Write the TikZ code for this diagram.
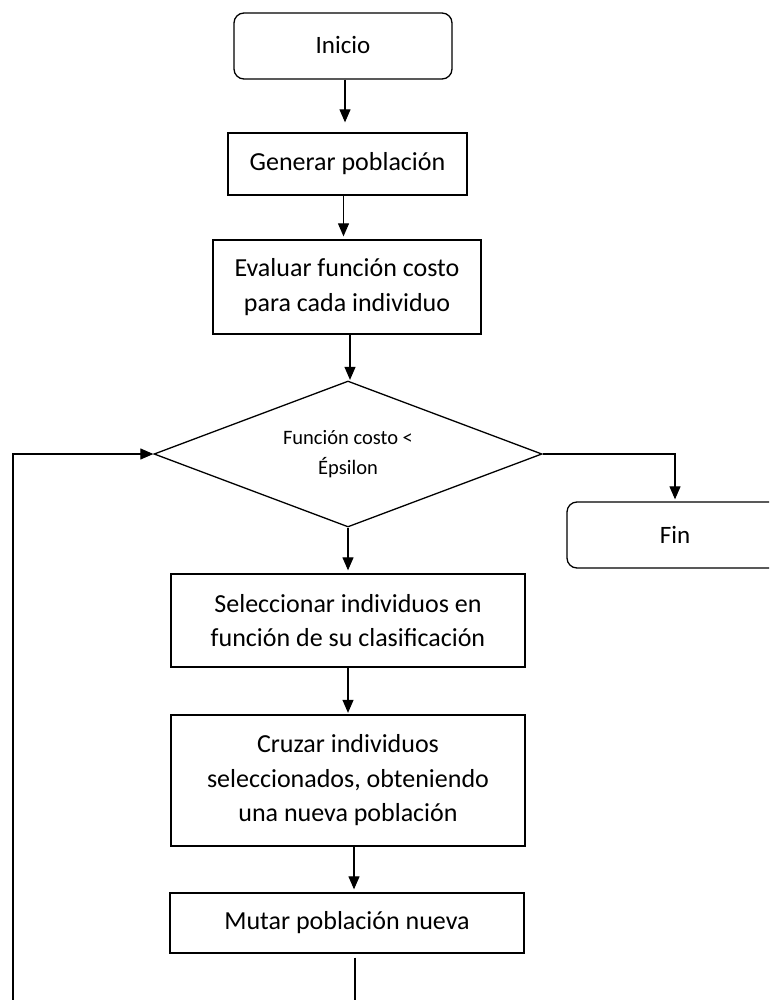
\documentclass[tikz,border=0pt]{standalone}
\usepackage{fontspec}
\setmainfont{Carlito}
\usetikzlibrary{shapes.geometric,arrows.meta,positioning,calc}
\begin{document}
\begin{tikzpicture}[x=1pt,y=-1pt,
  every node/.style={font=\fontsize{26}{34.5}\selectfont, align=center, inner sep=0pt},
  boxn/.style={draw, line width=1.3pt, rectangle},
  termn/.style={draw, line width=1.3pt, rectangle, rounded corners=10pt, font=\fontsize{25}{34.5}\selectfont},
  decn/.style={draw, line width=1.3pt, diamond, aspect=2.66, font=\fontsize{20.5}{30}\selectfont},
  arr/.style={line width=1.1pt, -{Triangle[length=13pt,width=11pt]}, shorten >=3pt}
]
\useasboundingbox (0,0) rectangle (769,1000);
\clip (0,0) rectangle (769,1000);
\fill[white] (0,0) rectangle (769,1000);

\node[termn, minimum width=218pt, minimum height=66pt] (inicio) at (343,46) {\raisebox{3pt}{Inicio}};
\node[boxn, minimum width=239pt, minimum height=62pt] (gen) at (347.5,164) {Generar población};
\node[boxn, minimum width=268pt, minimum height=94pt] (eval) at (347,287) {Evaluar función costo\\para cada individuo};
\node[decn, minimum width=388pt, minimum height=146pt] (dec) at (348,454) {Función costo <\\Épsilon};
\node[termn, minimum width=216pt, minimum height=66pt] (fin) at (675,535) {Fin};
\node[boxn, minimum width=354pt, minimum height=93pt] (sel) at (348,620.5) {Seleccionar individuos en\\función de su clasificación};
\node[boxn, minimum width=354pt, minimum height=131pt] (cruz) at (348,780.5) {Cruzar individuos\\seleccionados, obteniendo\\una nueva población};
\node[boxn, minimum width=354pt, minimum height=60pt] (mut) at (347,923) {Mutar población nueva};

\coordinate (loopBL) at (13,1015);

\draw[arr, shorten >=10pt] ([xshift=2pt]inicio.south) -- ([xshift=2pt]inicio.south |- gen.north);
\draw[arr] ([xshift=-4pt]gen.south) -- ([xshift=-4pt]gen.south |- eval.north);
\draw[arr, shorten >=0.5pt] ([xshift=3pt]eval.south) -- ([xshift=3pt]eval.south |- dec.north);
\draw[arr] (dec.south) -- (sel.north);
\draw[arr, shorten >=1.5pt] (sel) -- (cruz);
\draw[arr] ([xshift=6pt]cruz.south) -- ([xshift=6pt]cruz.south |- mut.north);
\draw[arr, shorten >=2pt] (dec.east) -| (fin.north);
\draw[arr, shorten >=0pt, shorten <=4pt] ([xshift=8pt]mut.south) |- (loopBL) |- (dec.west);
\end{tikzpicture}
\end{document}
